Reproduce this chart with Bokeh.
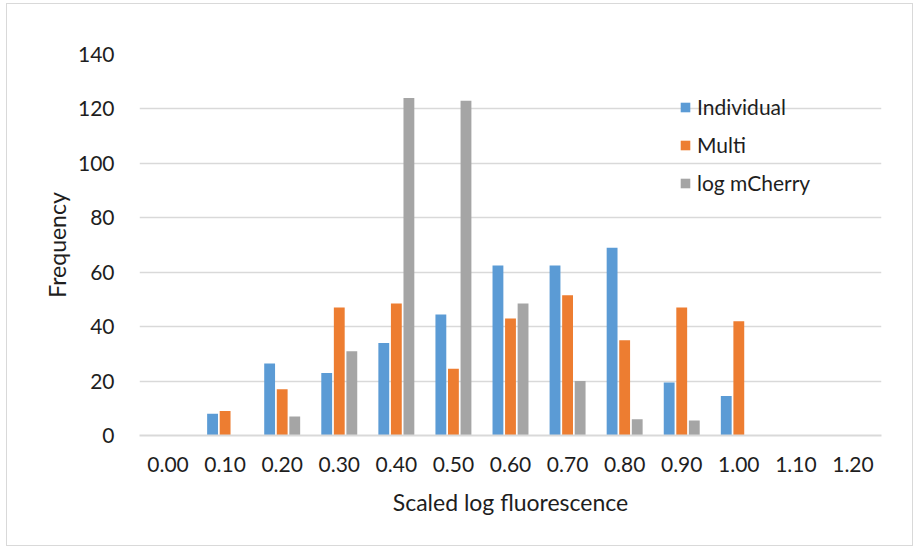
from bokeh.plotting import figure
from bokeh.models import ColumnDataSource, FactorRange, Legend, LegendItem
from bokeh.transform import dodge
from bokeh.embed import file_html
from bokeh.resources import INLINE

categories = ["0.00", "0.10", "0.20", "0.30", "0.40", "0.50", "0.60",
              "0.70", "0.80", "0.90", "1.00", "1.10", "1.20"]
individual = [0, 8, 26.5, 23, 34, 44.5, 62.5, 62.5, 69, 19.5, 14.5, 0, 0]
multi = [0, 9, 17, 47, 48.5, 24.5, 43, 51.5, 35, 47, 42, 0, 0]
log_mcherry = [0, 0, 7, 31, 124, 123, 48.5, 20, 6, 5.5, 0, 0, 0]
series_names = ["Individual", "Multi", "log mCherry"]
colors = ["#5b9bd5", "#ed7d31", "#a5a5a5"]

source = ColumnDataSource(dict(cat=categories, individual=individual,
                               multi=multi, mcherry=log_mcherry))

FONT = "Lato"
TXT = "#1e1e1e"

p = figure(x_range=FactorRange(*categories), y_range=(0, 140),
           width=907, height=543, output_backend="svg", toolbar_location=None,
           min_border_left=132, min_border_right=33, min_border_top=50,
           min_border_bottom=112)
p.styles = {"border": "1px solid #d9d9d9", "margin-left": "6px", "margin-top": "3px"}
p.outline_line_color = None

w = 0.19
off = 0.22
r1 = p.vbar(x=dodge("cat", -off, range=p.x_range), top="individual", width=w,
            source=source, color=colors[0], line_color=None)
r2 = p.vbar(x=dodge("cat", 0, range=p.x_range), top="multi", width=w,
            source=source, color=colors[1], line_color=None)
r3 = p.vbar(x=dodge("cat", off, range=p.x_range), top="mcherry", width=w,
            source=source, color=colors[2], line_color=None)

p.yaxis.ticker = [0, 20, 40, 60, 80, 100, 120, 140]
p.yaxis.axis_line_color = None
p.yaxis.major_tick_line_color = None
p.yaxis.minor_tick_line_color = None
p.yaxis.major_label_standoff = 19
p.yaxis.axis_label = "Frequency"
p.yaxis.axis_label_standoff = 4

p.xaxis.axis_line_color = "#d9d9d9"
p.xaxis.axis_line_width = 2
p.xaxis.major_tick_line_color = None
p.xaxis.minor_tick_line_color = None
p.xaxis.major_label_standoff = 15
p.xaxis.axis_label = "Scaled log fluorescence"
p.xaxis.axis_label_standoff = 13

for ax in (p.xaxis, p.yaxis):
    ax.major_label_text_font = FONT
    ax.major_label_text_font_size = "21px"
    ax.major_label_text_color = TXT
    ax.axis_label_text_font = FONT
    ax.axis_label_text_font_size = "23px"
    ax.axis_label_text_font_style = "normal"
    ax.axis_label_text_color = TXT

p.xgrid.grid_line_color = None
p.ygrid.grid_line_color = "#d9d9d9"
p.ygrid.grid_line_width = 1.5

legend = Legend(items=[LegendItem(label=series_names[0], renderers=[r1]),
                       LegendItem(label=series_names[1], renderers=[r2]),
                       LegendItem(label=series_names[2], renderers=[r3])],
                location=(540, 240), padding=0, margin=0, spacing=13,
                glyph_width=12, glyph_height=12, label_height=20,
                label_standoff=6, border_line_color=None,
                background_fill_alpha=0,
                label_text_font=FONT, label_text_font_size="21px",
                label_text_color=TXT)
p.add_layout(legend, "center")

open("out.html", "w").write(file_html(p, INLINE))
